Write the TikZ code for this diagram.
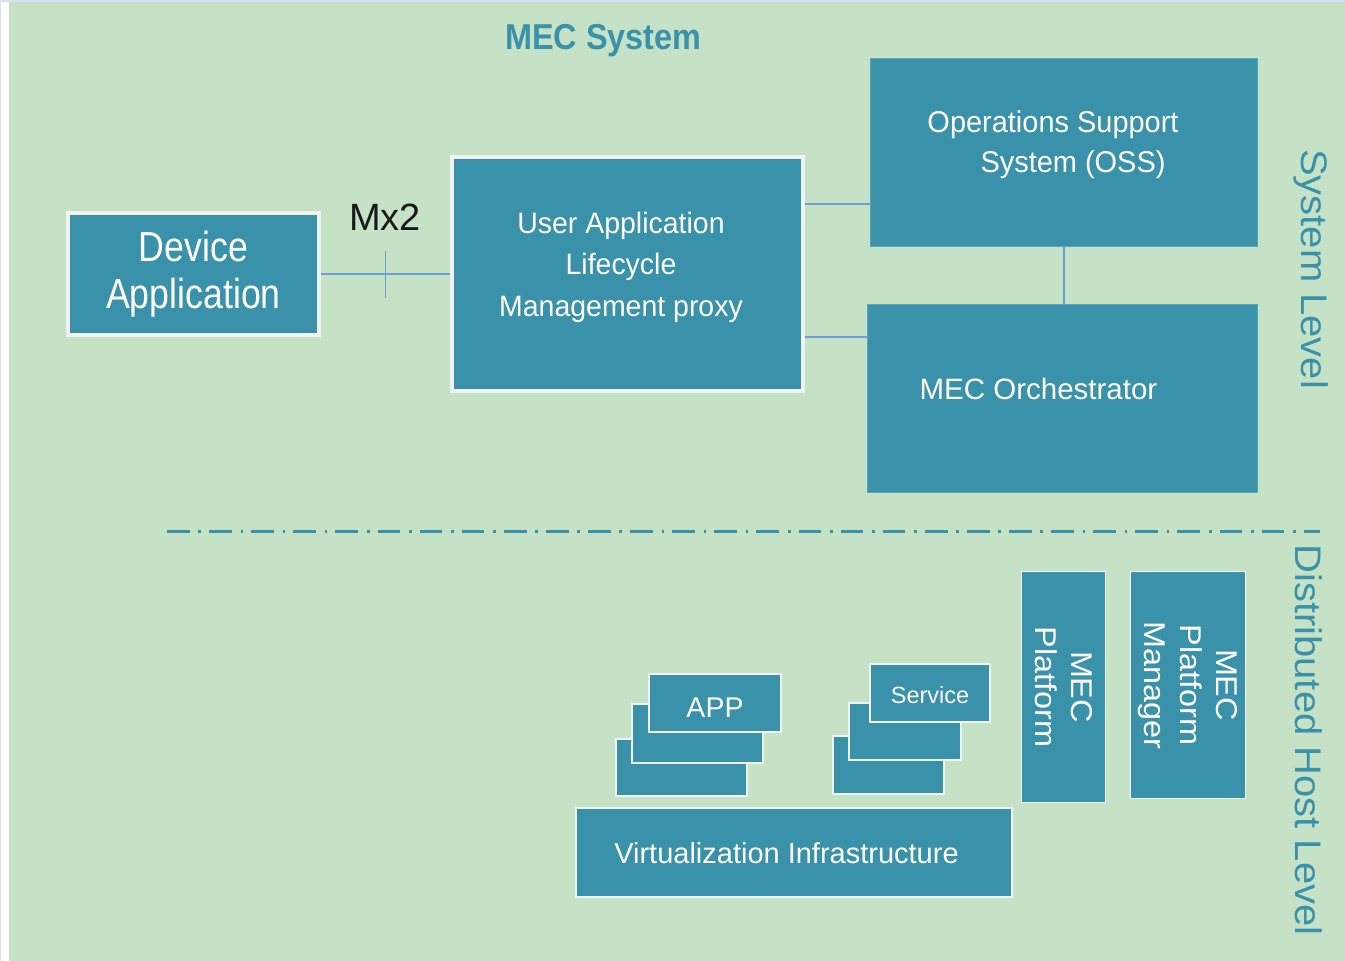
\documentclass[tikz,border=0pt]{standalone}
\usepackage{fontspec}
\usetikzlibrary{calc}
\setmainfont{Liberation Sans}
\newfontfamily\narrowsans{Liberation Sans}[FakeStretch=0.85]
\newfontfamily\slimsans{Liberation Sans}[FakeStretch=0.965]
\newfontfamily\titlesans{Liberation Sans}[FakeStretch=0.9]
\newfontfamily\widesans{Liberation Sans}[FakeStretch=1.08]
\definecolor{boxteal}{HTML}{3991AA}
\definecolor{boxedge}{HTML}{5CA6BD}
\definecolor{bggreen}{HTML}{C5E2C6}
\definecolor{linkblue}{HTML}{6A9FD8}
\definecolor{rimwhite}{HTML}{F1F3F1}
\definecolor{stripblue}{HTML}{D7E0F0}
\newcommand\fsz[2]{\fontsize{#1}{#2}\selectfont}
\begin{document}
\begin{tikzpicture}[x=1pt,y=-1pt,
  box/.style={fill=boxteal, text=white, inner sep=0pt, align=center},
  rim/.style={draw=rimwhite, line width=#1},
  plain/.style={draw=boxedge, line width=1},
  txt/.style={inner sep=0pt, text=white, align=center},
  link/.style={draw=linkblue, line width=1.5},
  levellabel/.style={inner sep=0pt, text=boxteal, rotate=-90, anchor=base,
    font=\widesans\fsz{37}{44}},
  separator/.style={draw=boxteal, line width=3,
    dash pattern=on 22.7 off 8.7 on 2.7 off 8}
]
% page background
\fill[stripblue] (0,0) rectangle (1345,961);
\fill[white] (1,2) rectangle (9,961);
\fill[bggreen] (9,2) rectangle (1345,961);
\useasboundingbox (0,0) rectangle (1345,961);

% title
\node[inner sep=0pt, anchor=base, text=boxteal,
  font=\titlesans\bfseries\fsz{36}{42}] (title) at (603.5,49.3) {MEC System};

% system level
\node[box, rim=4, minimum width=251, minimum height=122,
  font=\narrowsans\fsz{42}{47}] (dev) at (193.5,274) {Device\\Application};
\node[box, rim=4, minimum width=351, minimum height=234] (ulm) at (627.5,274) {};
\node[txt, font=\slimsans\fsz{29.5}{41.5}] (ulmtext) at (621,267)
  {User Application\\Lifecycle\\Management proxy};
\node[box, plain, minimum width=387, minimum height=188] (oss) at (1064,152.5) {};
\node[txt, font=\slimsans\fsz{30}{40}] (osstext) at (1053,145)
  {Operations Support\\\hspace*{40pt}System (OSS)};
\node[box, plain, minimum width=390, minimum height=188] (orch) at (1062.5,398.5) {};
\node[txt, anchor=base, font=\fsz{29.5}{34}] (orchtext) at (1038.5,399.5)
  {MEC Orchestrator};

% Mx2 reference point
\draw[link] (dev.east) -- (ulm.west);
\coordinate (mx) at ($(dev.east)!0.5!(ulm.west)$);
\draw[link] ([yshift=23.5pt]mx) -- ([yshift=-23.5pt]mx);
\node[inner sep=0pt, anchor=base, text=black!90, font=\fsz{38}{44}] (mxlabel)
  at (385,230) {Mx2};

% links to OSS and orchestrator
\draw[link] (ulm.east |- 0,204) -- (oss.west |- 0,204);
\draw[link] (ulm.east |- 0,337) -- (orch.west |- 0,337);
\draw[link] (oss.south) -- (orch.north -| oss.south);

% level separator
\draw[separator] (167,531) -- (1320,531);

% distributed host level
\node[box, rim=2, minimum width=131, minimum height=57] (appC) at (681.5,767.5) {};
\node[box, rim=2, minimum width=131, minimum height=59] (appB) at (697.5,733.5) {};
\node[box, rim=2, minimum width=132, minimum height=58] (appA) at (715,703) {};
\node[txt, anchor=base, font=\fsz{28.5}{34}] (apptext) at (715,717) {APP};

\node[box, rim=2, minimum width=111, minimum height=58] (servC) at (888.5,765) {};
\node[box, rim=2, minimum width=112, minimum height=57] (servB) at (905,731.5) {};
\node[box, rim=2, minimum width=120, minimum height=58] (servA) at (930,693) {};
\node[txt, anchor=base, font=\fsz{23.5}{28}] (servtext) at (930,703) {Service};

\node[box, rim=2, minimum width=436, minimum height=89] (virt) at (794,852.5) {};
\node[txt, anchor=base, font=\fsz{29}{34}] (virttext) at (786.5,863)
  {Virtualization Infrastructure};

\node[box, rim=1.2, rotate=-90, minimum width=231, minimum height=84,
  font=\widesans\fsz{30}{36}] (plat) at (1063.5,687) {MEC\\Platform};
\node[box, rim=1.2, rotate=-90, minimum width=227, minimum height=115,
  font=\widesans\fsz{30}{36}] (pm) at (1188,685) {MEC\\Platform\\Manager};

% level captions
\node[levellabel] (syslevel) at (1301,269) {System Level};
\node[levellabel] (hostlevel) at (1295,740) {Distributed Host Level};
\end{tikzpicture}
\end{document}
